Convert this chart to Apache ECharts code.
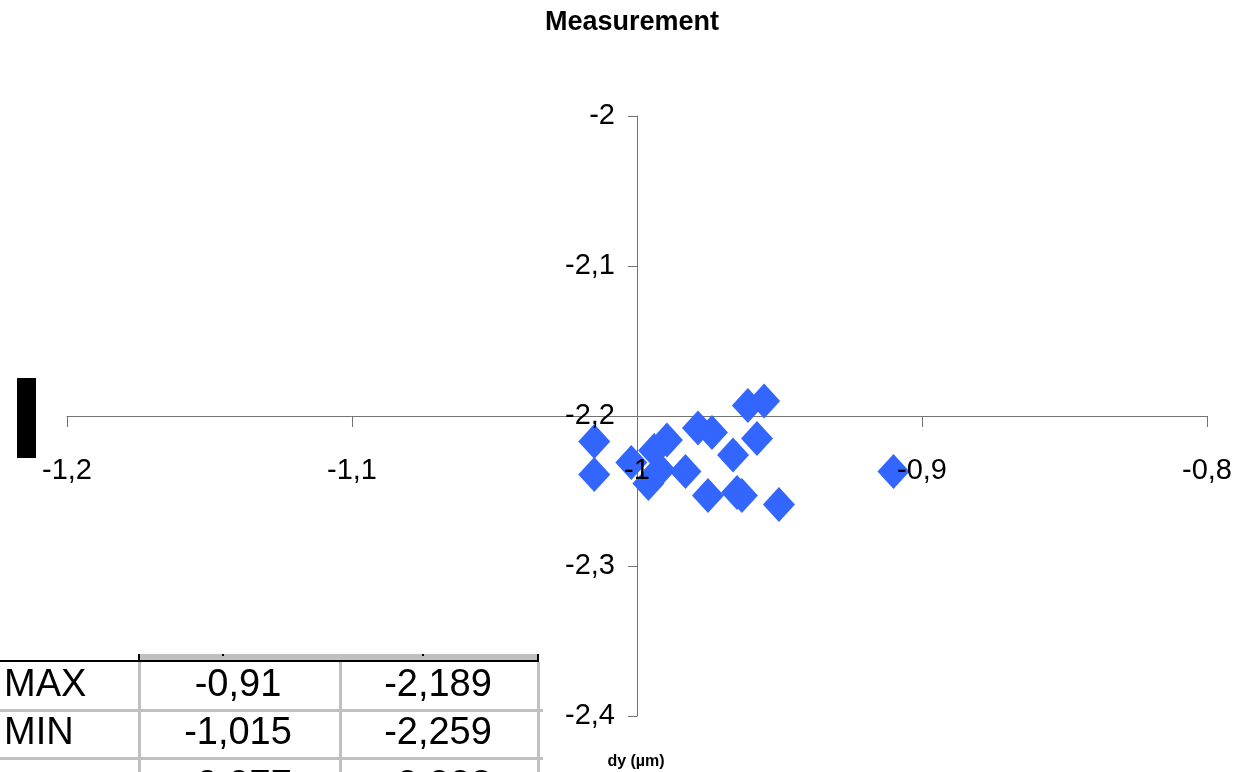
<!DOCTYPE html>
<html>
<head>
<meta charset="utf-8">
<script src="https://cdn.jsdelivr.net/npm/echarts@6/dist/echarts.min.js"></script>
<style>html,body{margin:0;padding:0;background:#fff;}#c{width:1240px;height:772px;}</style>
</head>
<body>
<div id="c"></div>
<script>
// ---- data ----
var titleText = 'Measurement';
var axisTitle = 'dy (\u00b5m)';
var xValues = [-1.015, -1.015, -1.002, -0.996, -0.994, -0.9895, -0.992, -0.983, -0.9786, -0.9737, -0.9751, -0.9663, -0.9649, -0.9632, -0.9611, -0.9554, -0.9579, -0.9502, -0.910];
var yValues = [-2.217, -2.239, -2.231, -2.245, -2.223, -2.216, -2.236, -2.237, -2.208, -2.211, -2.253, -2.226, -2.251, -2.253, -2.193, -2.190, -2.215, -2.259, -2.237];
var xTicks = [-1.2, -1.1, -1.0, -0.9, -0.8];
var yTicks = [-2.0, -2.1, -2.2, -2.3, -2.4];
var tableLabels = ['MAX', 'MIN', ''];
var tableCol1 = ['-0,91', '-1,015', '-0,977'];
var tableCol2 = ['-2,189', '-2,259', '-2,228'];

var chart = echarts.init(document.getElementById('c'), null, {renderer: 'canvas'});
var pts = xValues.map(function (x, i) { return [x, yValues[i]]; });
function fmt(v) { return String(+v.toFixed(3)).replace('.', ','); }

var axisColor = '#737373';
var labelFont = {fontFamily: 'Liberation Sans, Arial, sans-serif', fontSize: 29, color: '#000'};

var xBase = {type: 'value', min: xTicks[0], max: xTicks[xTicks.length - 1], interval: 0.1,
  position: 'bottom', offset: -300, splitLine: {show: false}};
var yBase = {type: 'value', min: yTicks[yTicks.length - 1], max: yTicks[0], interval: 0.1,
  position: 'left', offset: -570, splitLine: {show: false}};

var g = [];
g.push({type: 'text', x: 632, y: 23, z: 10, style: {text: titleText, align: 'center', verticalAlign: 'middle', font: 'bold 27px Liberation Sans, Arial, sans-serif', fill: '#000'}});
g.push({type: 'text', x: 636, y: 762, z: 10, style: {text: axisTitle, align: 'center', verticalAlign: 'middle', font: 'bold 16px Liberation Sans, Arial, sans-serif', fill: '#000'}});
g.push({type: 'rect', shape: {x: 17, y: 378, width: 19, height: 80}, style: {fill: '#000'}, z: 10});
// table header band & lines
g.push({type: 'rect', shape: {x: 139, y: 654, width: 400, height: 6}, style: {fill: '#c0c0c0'}, z: 10});
g.push({type: 'rect', shape: {x: 0, y: 660, width: 539, height: 2}, style: {fill: '#000'}, z: 11});
g.push({type: 'rect', shape: {x: 138, y: 654, width: 2, height: 7}, style: {fill: '#000'}, z: 11});
g.push({type: 'rect', shape: {x: 537, y: 654, width: 2, height: 7}, style: {fill: '#000'}, z: 11});
g.push({type: 'rect', shape: {x: 222, y: 654, width: 2, height: 2}, style: {fill: '#000'}, z: 11});
g.push({type: 'rect', shape: {x: 422, y: 654, width: 2, height: 2}, style: {fill: '#000'}, z: 11});
[138, 339, 537].forEach(function (x) {
  g.push({type: 'rect', shape: {x: x, y: 662, width: 3, height: 110}, style: {fill: '#c0c0c0'}, z: 10});
});
[709, 757].forEach(function (y) {
  g.push({type: 'rect', shape: {x: 0, y: y, width: 543, height: 3}, style: {fill: '#c0c0c0'}, z: 10});
});
var rowCenters = [686, 734, 787];
tableLabels.forEach(function (t, i) {
  var f = '38px Liberation Sans, Arial, sans-serif';
  g.push({type: 'text', x: 4, y: rowCenters[i], z: 12, style: {text: t, align: 'left', verticalAlign: 'middle', font: f, fill: '#000'}});
  g.push({type: 'text', x: 238, y: rowCenters[i], z: 12, style: {text: tableCol1[i], align: 'center', verticalAlign: 'middle', font: f, fill: '#000'}});
  g.push({type: 'text', x: 438, y: rowCenters[i], z: 12, style: {text: tableCol2[i], align: 'center', verticalAlign: 'middle', font: f, fill: '#000'}});
});

chart.setOption({
  animation: false,
  backgroundColor: '#fff',
  grid: {left: 67, right: 33, top: 116, bottom: 56, containLabel: false, outerBoundsMode: 'none'},
  xAxis: [
    Object.assign({}, xBase, {z: 0,
      axisLine: {show: true, lineStyle: {color: axisColor, width: 1}},
      axisTick: {show: true, inside: false, length: 11, lineStyle: {color: axisColor}},
      axisLabel: {show: false}}),
    Object.assign({}, xBase, {z: 5,
      axisLine: {show: false}, axisTick: {show: false},
      axisLabel: Object.assign({show: true, margin: 40, formatter: fmt, showMinLabel: true, showMaxLabel: true}, labelFont)})
  ],
  yAxis: [
    Object.assign({}, yBase, {z: 0,
      axisLine: {show: true, lineStyle: {color: axisColor, width: 1}},
      axisTick: {show: true, inside: false, length: 9, lineStyle: {color: axisColor}},
      axisLabel: {show: false}}),
    Object.assign({}, yBase, {z: 5,
      axisLine: {show: false}, axisTick: {show: false},
      axisLabel: Object.assign({show: true, margin: 22, formatter: fmt, showMinLabel: true, showMaxLabel: true}, labelFont)})
  ],
  series: [{
    type: 'scatter',
    xAxisIndex: 0, yAxisIndex: 0,
    data: pts,
    symbol: 'diamond',
    symbolSize: [32, 35],
    itemStyle: {color: '#3366ff', opacity: 1},
    z: 2
  }],
  graphic: g
});
</script>
</body>
</html>
